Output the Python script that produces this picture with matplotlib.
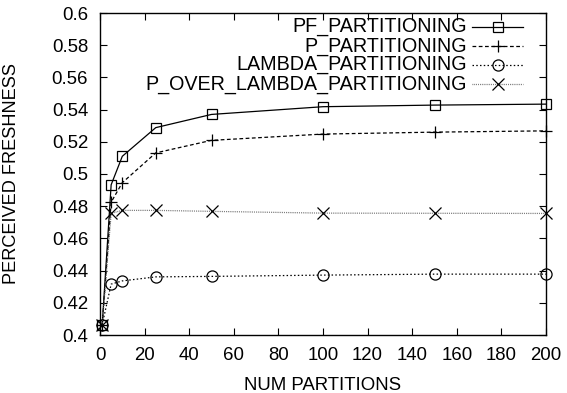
import matplotlib
matplotlib.use("Agg")
import matplotlib.pyplot as plt
from matplotlib.ticker import MultipleLocator, FuncFormatter
from matplotlib.lines import Line2D

plt.rcParams['font.family'] = ['Liberation Sans', 'DejaVu Sans']

partitions = [1, 5, 10, 25, 50, 100, 150, 200]
pf_partitioning = [0.4065, 0.4933, 0.5110, 0.5288, 0.5370, 0.5418, 0.5428, 0.5434]
p_partitioning = [0.4065, 0.4825, 0.4946, 0.5131, 0.5209, 0.5248, 0.5260, 0.5268]
lambda_partitioning = [0.4065, 0.4316, 0.4336, 0.4361, 0.4364, 0.4372, 0.4378, 0.4378]
p_over_lambda_partitioning = [0.4065, 0.4756, 0.4774, 0.4774, 0.4768, 0.4757, 0.4756, 0.4755]
series_labels = ["PF_PARTITIONING", "P_PARTITIONING", "LAMBDA_PARTITIONING", "P_OVER_LAMBDA_PARTITIONING"]

FS = 13.4
FS_KEY = 14.2
fig = plt.figure(figsize=(5.67, 3.93), dpi=100)
ax = fig.add_axes([100/567, 1-335/393, 446/567, 322/393])

styles = [
    dict(color='black', ls='-', marker='s', mfc='none', ms=7.5, lw=0.9, mew=0.9),
    dict(color='black', ls=(0, (3, 2)), marker='+', ms=9, lw=0.9, mew=0.9),
    dict(color='black', ls=(0, (1.2, 1.8)), marker='o', mfc='none', ms=8, lw=0.9, mew=0.9),
    dict(color='#555555', ls=(0, (0.6, 0.9)), marker='x', ms=8, lw=0.9, mew=0.9, mec='black'),
]
data = [pf_partitioning, p_partitioning, lambda_partitioning, p_over_lambda_partitioning]
for vals, st in zip(data, styles):
    ax.plot(partitions, vals, clip_on=False, zorder=3, **st)

ax.set_xlim(0, 200)
ax.set_ylim(0.4, 0.6)
ax.xaxis.set_major_locator(MultipleLocator(20))
ax.yaxis.set_major_locator(MultipleLocator(0.02))
ax.yaxis.set_major_formatter(FuncFormatter(lambda v, p: '%g' % round(v, 4)))
ax.tick_params(direction='in', top=True, right=True, length=5, width=0.8,
               labelsize=FS)
ax.tick_params(axis='y', pad=8.5)
ax.tick_params(axis='x', pad=9)
for s in ax.spines.values():
    s.set_linewidth(1.0)
ax.set_xlabel("NUM PARTITIONS", fontsize=FS, labelpad=9)
ax.set_ylabel("PERCEIVED FRESHNESS", fontsize=13.1)
ax.yaxis.set_label_coords((20.5-100)/446, 0.5)

# gnuplot-style key: right-aligned text, sample to the right
row_y = [1 - (26.7-13)/322, 1 - (46-13)/322, 1 - (65-13)/322, 1 - (84-13)/322]
x_text = (466.5-100)/446
x0, x1 = (472-100)/446, (523-100)/446
for lab, st, yy in zip(series_labels, styles, row_y):
    ax.text(x_text, yy, lab, transform=ax.transAxes, ha='right', va='center', fontsize=FS_KEY)
    ln = Line2D([x0, x1], [yy, yy], transform=ax.transAxes, color=st['color'], ls=st['ls'], lw=st['lw'])
    ax.add_line(ln)
    mst = {k: v for k, v in st.items() if k in ('marker', 'mfc', 'ms', 'mew', 'mec')}
    mk = Line2D([(x0+x1)/2], [yy], transform=ax.transAxes, ls='none', color='black', **mst)
    ax.add_line(mk)

fig.savefig("out.png", dpi=100)
